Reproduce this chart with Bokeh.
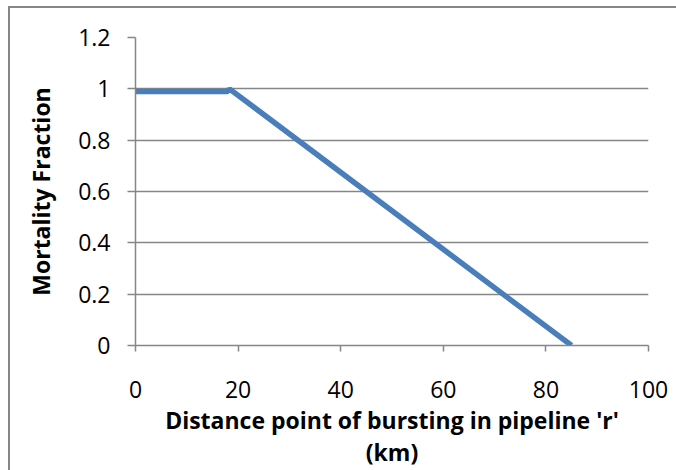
from bokeh.plotting import figure
from bokeh.models import Range1d, FixedTicker
from bokeh.embed import file_html
from bokeh.resources import INLINE

# data
distance_km = [0, 18, 18.3, 85]
mortality = [0.99, 0.99, 1.0, 0.0]
x_ticks = [0, 20, 40, 60, 80, 100]
y_ticks = [0, 0.2, 0.4, 0.6, 0.8, 1.0, 1.2]
y_labels = {0: "0", 0.2: "0.2", 0.4: "0.4", 0.6: "0.6", 0.8: "0.8", 1.0: "1", 1.2: "1.2"}

GRAY = "#868686"
FONT = "Open Sans"

p = figure(width=676, height=470, output_backend="svg", toolbar_location=None,
           x_range=Range1d(0, 100), y_range=Range1d(0, 1.2),
           min_border_left=135, min_border_right=28, min_border_top=37, min_border_bottom=124)
p.outline_line_color = None
p.background_fill_color = "white"
p.border_fill_color = None
# chart-area border (left and top edges visible in the reference)
p.styles = {
    "background": ("linear-gradient(#868686,#868686) 8px 6px / 2px 100% no-repeat, "
                   "linear-gradient(#868686,#868686) 8px 6px / 100% 2px no-repeat, white"),
}

p.line(distance_km, mortality, line_color="#4A7EBB", line_width=5.5)

# x axis
xa = p.xaxis[0]
xa.ticker = FixedTicker(ticks=x_ticks)
xa.axis_line_color = GRAY
xa.axis_line_width = 1.5
xa.major_tick_line_color = GRAY
xa.major_tick_line_width = 1.5
xa.major_tick_out = 6
xa.major_tick_in = 0
xa.minor_tick_line_color = None
xa.major_label_standoff = 29
xa.major_label_text_font = FONT
xa.major_label_text_font_size = "23px"
xa.major_label_text_color = "black"
xa.axis_label = "Distance point of bursting in pipeline 'r'\n(km)"
xa.axis_label_text_font = FONT
xa.axis_label_text_font_style = "bold"
xa.axis_label_text_font_size = "23px"
xa.axis_label_text_color = "black"
xa.axis_label_text_line_height = 1.0
xa.axis_label_standoff = 3

# y axis
ya = p.yaxis[0]
ya.ticker = FixedTicker(ticks=y_ticks)
ya.major_label_overrides = y_labels
ya.axis_line_color = GRAY
ya.axis_line_width = 1.5
ya.major_tick_line_color = GRAY
ya.major_tick_line_width = 1.5
ya.major_tick_out = 8
ya.major_tick_in = 0
ya.minor_tick_line_color = None
ya.major_label_standoff = 17
ya.major_label_text_font = FONT
ya.major_label_text_font_size = "23px"
ya.major_label_text_color = "black"
ya.axis_label = "Mortality Fraction"
ya.axis_label_text_font = FONT
ya.axis_label_text_font_style = "bold"
ya.axis_label_text_font_size = "23px"
ya.axis_label_text_color = "black"
ya.axis_label_standoff = 18

p.xgrid.grid_line_color = None
p.ygrid.ticker = FixedTicker(ticks=y_ticks)
p.ygrid.grid_line_color = GRAY
p.ygrid.grid_line_width = 1.5

open("out.html", "w").write(file_html(p, INLINE))
